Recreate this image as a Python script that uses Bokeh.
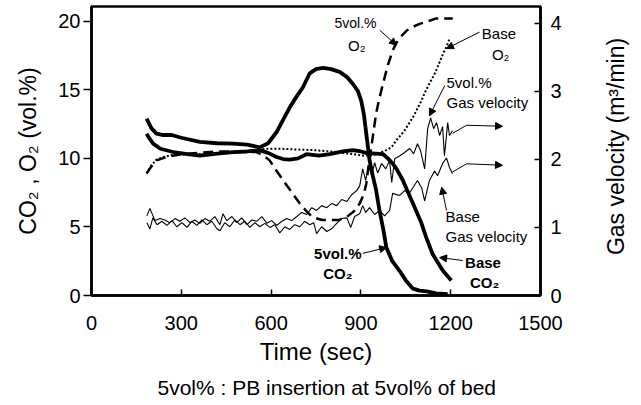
import math
from bokeh.plotting import figure
from bokeh.layouts import row
from bokeh.models import Range1d, LinearAxis, Label, Arrow, NormalHead, Title, FixedTicker
from bokeh.core.properties import value
from bokeh.embed import file_html
from bokeh.resources import INLINE

FONT = "Liberation Sans"

# ---------------- data ----------------
x_ticks = [0, 300, 600, 900, 1200, 1500]
y_ticks = [0, 5, 10, 15, 20]
gv_ticks = [0, 1, 2, 3, 4]

# 5vol.% CO2 (vol.%)
t_co2_5 = [184, 200, 217, 240, 268, 300, 362, 420, 472, 520, 562, 590, 618, 640, 662, 685, 707, 729, 750, 773,
           800, 829, 855, 874, 890, 901, 910, 918, 929, 940, 951, 962, 975, 985, 1005, 1029, 1050, 1074, 1096, 1120,
           1152, 1190]
v_co2_5 = [12.9, 12.2, 11.8, 11.7, 11.7, 11.5, 11.2, 11.1, 11.07, 11.0, 10.8, 11.1, 11.9, 12.8, 13.7, 14.5, 15.2, 16.2, 16.5, 16.6,
           16.5, 16.3, 15.9, 15.4, 14.9, 14.2, 13.2, 11.8, 9.85, 8.7, 7.66, 6.2, 4.8, 3.5, 2.5, 1.8, 1.1, 0.5, 0.36, 0.3,
           0.15, 0.1]

# Base CO2 (vol.%)
t_co2_b = [184, 195, 206, 230, 273, 320, 362, 420, 473, 520, 562, 590, 618, 640, 662, 690, 718, 760, 796, 840,
           874, 900, 918, 950, 974, 990, 1007, 1020, 1040, 1060, 1074, 1100, 1118, 1140, 1160, 1174, 1190, 1202]
v_co2_b = [11.8, 11.4, 11.07, 10.7, 10.46, 10.3, 10.2, 10.35, 10.46, 10.5, 10.58, 10.4, 10.1, 9.95, 9.9, 10.0, 10.3, 10.2, 10.3, 10.5,
           10.6, 10.5, 10.4, 10.35, 10.3, 10.0, 9.6, 9.2, 8.4, 7.4, 6.7, 5.4, 4.25, 3.0, 2.3, 1.8, 1.4, 1.1]

# 5vol.% O2 (vol.%)
t_o2_5 = [184, 200, 217, 251, 300, 360, 420, 480, 551, 575, 595, 618, 640, 673, 696, 720, 740, 770, 796, 825,
          851, 875, 896, 910, 918, 929, 940, 951, 962, 974, 990, 1007, 1018, 1035, 1052, 1075, 1096, 1125, 1152, 1180,
          1207]
v_o2_5 = [8.9, 9.4, 9.85, 10.1, 10.3, 10.4, 10.5, 10.5, 10.46, 10.2, 9.85, 9.1, 8.4, 7.4, 6.7, 6.1, 5.7, 5.5, 5.5, 5.5,
          5.7, 6.1, 6.7, 7.4, 8.15, 10.0, 11.6, 13.3, 14.4, 15.45, 16.8, 17.9, 18.4, 18.9, 19.3, 19.6, 19.8, 20.0, 20.2, 20.2,
          20.2]

# Base O2 (vol.%)
t_o2_b = [184, 200, 217, 240, 270, 320, 380, 440, 500, 550, 585, 629, 680, 740, 800, 860, 907, 940, 985, 1002,
          1018, 1045, 1074, 1100, 1118, 1129, 1145, 1157, 1174, 1185, 1196]
v_o2_b = [8.9, 9.5, 9.9, 10.1, 10.25, 10.3, 10.3, 10.35, 10.45, 10.6, 10.7, 10.7, 10.65, 10.6, 10.5, 10.35, 10.2, 10.2, 10.6, 10.8,
          11.3, 12.0, 13.0, 14.1, 15.0, 15.45, 16.1, 16.7, 17.6, 18.1, 18.7]

# 5vol.% gas velocity (m3/min)
t_gv_5 = [185, 195, 212, 229, 245, 262, 279, 295, 312, 329, 345, 362, 379, 395, 412, 429, 439, 452, 469, 485,
          502, 519, 536, 552, 569, 586, 602, 619, 636, 652, 669, 686, 702, 719, 736, 752, 769, 786, 802, 819,
          836, 853, 869, 886, 896, 906, 916, 926, 936, 946, 956, 969, 983, 996, 1003, 1013, 1029, 1046, 1063, 1076,
          1089, 1099, 1113, 1123, 1133, 1143, 1153, 1163, 1173, 1179, 1190, 1196, 1206]
v_gv_5 = [1.17, 1.28, 1.10, 1.13, 1.11, 1.07, 1.13, 1.09, 1.14, 1.07, 1.11, 1.06, 1.13, 1.09, 1.16, 1.04, 1.20, 1.10, 1.16, 1.07,
          1.14, 1.04, 1.11, 1.09, 1.16, 1.06, 1.10, 1.03, 1.09, 1.13, 1.10, 1.16, 1.22, 1.19, 1.29, 1.25, 1.32, 1.29, 1.35, 1.32,
          1.41, 1.38, 1.48, 1.54, 1.61, 1.86, 1.69, 1.91, 1.76, 1.95, 1.80, 1.94, 1.86, 1.98, 1.66, 2.01, 2.05, 2.10, 2.16, 2.08,
          2.23, 2.13, 1.86, 2.45, 2.61, 2.45, 2.54, 2.35, 2.48, 2.05, 2.54, 2.35, 2.42]

# Base gas velocity (m3/min)
t_gv_b = [185, 195, 205, 219, 235, 252, 269, 285, 302, 319, 335, 352, 369, 385, 402, 419, 429, 445, 462, 479,
          496, 512, 529, 546, 562, 579, 596, 612, 629, 646, 662, 679, 696, 712, 729, 742, 752, 769, 786, 802,
          819, 836, 853, 866, 879, 896, 906, 916, 929, 946, 963, 979, 996, 1006, 1029, 1046, 1063, 1089, 1103, 1113,
          1129, 1146, 1156, 1173, 1186, 1196, 1206]
v_gv_b = [1.07, 0.98, 1.14, 1.04, 1.09, 1.03, 1.10, 1.01, 1.07, 1.00, 1.09, 1.03, 1.11, 1.04, 1.09, 0.98, 0.95, 1.07, 1.01, 1.11,
          1.04, 1.09, 1.00, 1.07, 1.01, 1.06, 1.00, 1.04, 0.92, 1.01, 0.97, 1.04, 1.01, 1.09, 1.04, 1.07, 0.91, 1.01, 0.94, 0.98,
          1.06, 1.13, 1.14, 1.00, 1.16, 1.20, 1.32, 1.22, 1.29, 1.19, 1.25, 1.17, 1.25, 1.50, 1.47, 1.54, 1.51, 1.69, 1.58, 1.39,
          1.69, 1.83, 1.76, 1.94, 2.02, 1.88, 1.79]

right_title = "Gas velocity (m\u00b3/min)"

# ---------------- main figure ----------------
p = figure(width=600, height=405, output_backend="svg", toolbar_location=None,
           x_range=Range1d(0, 1500), y_range=Range1d(0, 21.07),
           min_border_left=91, min_border_right=60, min_border_top=6, min_border_bottom=110,
           background_fill_color="white", border_fill_color="white")
p.extra_y_ranges = {"gv": Range1d(0, 4.245)}
p.grid.visible = False
p.outline_line_color = "black"
p.outline_line_width = 2.5

ax = p.xaxis[0]
ax.ticker = FixedTicker(ticks=x_ticks)
ax.major_tick_in = 6
ax.major_tick_out = 0
ax.major_label_standoff = 20
ax.axis_label = "Time (sec)"
ax.axis_label_standoff = 5

ay = p.yaxis[0]
ay.ticker = FixedTicker(ticks=y_ticks)
ay.major_tick_in = 0
ay.major_tick_out = 8
ay.major_label_standoff = 3
ay.axis_label = "CO\u2082 , O\u2082 (vol.%)"
ay.axis_label_standoff = 14

ar = LinearAxis(y_range_name="gv", ticker=FixedTicker(ticks=gv_ticks))
ar.major_tick_in = 6
ar.major_tick_out = 0
ar.major_label_standoff = 10
p.add_layout(ar, "right")

for a in (ax, ay, ar):
    a.axis_line_width = 2.5
    a.axis_line_color = "black"
    a.major_tick_line_width = 1.5
    a.major_tick_line_color = "black"
    a.minor_tick_line_color = None
    a.major_label_text_font = FONT
    a.major_label_text_font_size = "20px"
    a.major_label_text_color = "black"
    a.axis_label_text_font = FONT
    a.axis_label_text_font_style = "normal"
    a.axis_label_text_color = "black"
ax.axis_label_text_font_size = "24px"
ay.axis_label_text_font_size = "23px"

cap = Title(text="5vol% : PB insertion at 5vol% of bed", align="left", standoff=12, offset=66,
            text_font=FONT, text_font_size="21px", text_font_style="normal", text_color="black")
p.add_layout(cap, "below")

# ---------------- curves ----------------
p.line(t_gv_5, v_gv_5, y_range_name="gv", line_color="black", line_width=1.1)
p.line(t_gv_b, v_gv_b, y_range_name="gv", line_color="black", line_width=1.1)
p.line(t_o2_b, v_o2_b, line_color="black", line_width=2, line_dash="2 2")
p.line(t_o2_5, v_o2_5, line_color="black", line_width=2.5, line_dash="10 6")
p.line(t_co2_b, v_co2_b, line_color="black", line_width=3.8)
p.line(t_co2_5, v_co2_5, line_color="black", line_width=3.8)

# ---------------- annotations ----------------
def lab(x, y, text, align="center", bold=False, size="15px"):
    p.add_layout(Label(x=x, y=y, text=text, text_align=align, text_baseline="middle",
                       text_font=FONT, text_font_size=size,
                       text_font_style="bold" if bold else "normal", text_color="black"))

def arrow(x0, y0, x1, y1, head=True):
    p.add_layout(Arrow(x_start=x0, y_start=y0, x_end=x1, y_end=y1, line_width=1, line_color="black",
                       end=NormalHead(size=7, fill_color="black", line_color="black") if head else None))

lab(882, 19.85, "5vol.%", size="14px")
lab(886, 18.2, "O\u2082")
arrow(963, 19.34, 1019, 18.25)

lab(1361, 19.1, "Base")
lab(1367, 17.6, "O\u2082")
arrow(1296, 19.2, 1186, 18.0)

lab(1186, 15.5, "5vol.%", align="left")
lab(1186, 14.05, "Gas velocity", align="left")
arrow(1180, 15.3, 1129, 13.1)

arrow(1206, 11.82, 1253, 12.41, head=False)
arrow(1253, 12.41, 1373, 12.34)
arrow(1206, 9.0, 1253, 9.6, head=False)
arrow(1253, 9.6, 1373, 9.5)

lab(1183, 5.77, "Base", align="left")
lab(1183, 4.3, "Gas velocity", align="left")
arrow(1186, 6.2, 1170, 7.9)

lab(823, 3.07, "5vol.%", bold=True)
lab(823, 1.57, "CO\u2082", bold=True)
arrow(906, 3.07, 986, 3.5)

lab(1308, 2.4, "Base", bold=True)
lab(1313, 0.95, "CO\u2082", bold=True)
arrow(1240, 2.55, 1163, 2.77)

# ---------------- narrow strip holding the right-axis title (reads bottom-to-top) ----------------
# its frame is given the same top/bottom as the main frame (6 .. 295 px), one data unit per pixel
q = figure(width=41, height=405, output_backend="svg", toolbar_location=None,
           x_range=Range1d(0, 41), y_range=Range1d(0, 289),
           min_border_left=0, min_border_right=0, min_border_top=6, min_border_bottom=110,
           background_fill_color="white", border_fill_color="white")
q.axis.visible = False
q.grid.visible = False
q.outline_line_color = None
q.text(x=[15], y=[149], text=[right_title], angle=math.pi / 2,
       text_align="center", text_baseline="middle",
       text_font=value(FONT), text_font_size="23px", text_color="black")

layout = row(p, q, spacing=0)
open("out.html", "w").write(file_html(layout, INLINE))
